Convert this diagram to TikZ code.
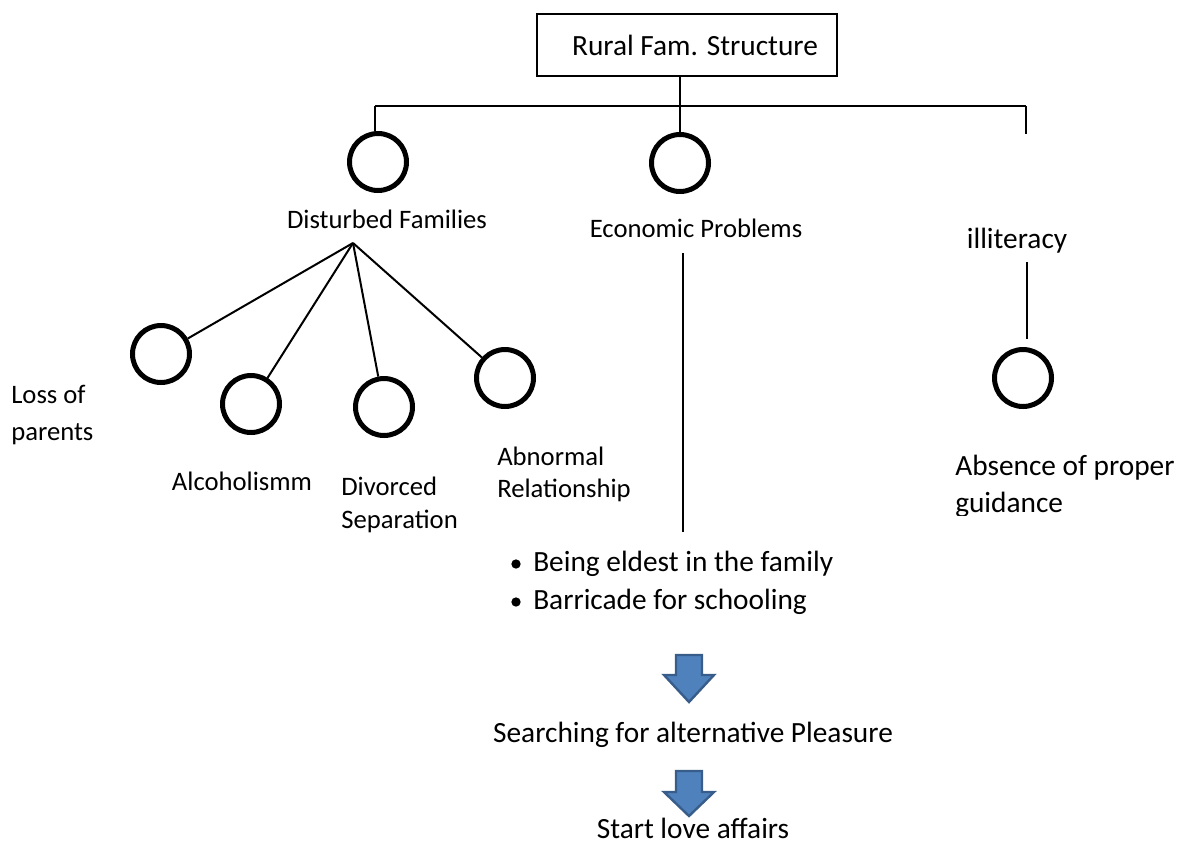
\documentclass[tikz,border=0pt]{standalone}
\usepackage{fontspec}
\setmainfont{Carlito}
\definecolor{arrowblue}{HTML}{4F81BD}
\definecolor{arrowedge}{HTML}{385D8A}
\begin{document}
\begin{tikzpicture}[x=0.75pt,y=-0.75pt,
  big/.style={font=\fontsize{22pt}{26pt}\selectfont, inner sep=0pt},
  small/.style={font=\fontsize{20pt}{24pt}\selectfont, inner sep=0pt},
  ring/.style={circle, draw, line width=3.75pt, minimum size=42.75pt, inner sep=0pt},
  link/.style={line width=1.5pt},
  dot/.style={circle, fill, inner sep=0pt, minimum size=7pt},
  blockarrow/.style={fill=arrowblue, draw=arrowedge, line width=1.8pt, line join=miter}]
\useasboundingbox (0,0) rectangle (1177,843);

% top box
\node[draw, line width=1pt, minimum width=225pt, minimum height=46.5pt, big] (top) at (687,45) {\hspace*{12pt}Rural Fam. Structure};

% circles
\node[ring] (c1) at (378,162) {};
\node[ring] (c2) at (680,163) {};
\node[ring] (c3) at (161,354) {};
\node[ring] (c4) at (251,404) {};
\node[ring] (c5) at (384,407) {};
\node[ring] (c6) at (505,378) {};
\node[ring] (c7) at (1023,378) {};

% bar
\coordinate (barL) at (375,106);
\coordinate (barR) at (1026,106);
\coordinate (rdrop) at (1026,134);
\draw[link] (barL) -- (barR);
\draw[link] (barL) -- (barL |- c1.north);
\draw[link] (barR) -- (rdrop);
\draw[link] (top.south -| c2.north) -- (c2.north);

% labels level 1
\node[small, anchor=base] (df) at (387,228) {Disturbed Families};
\node[small, anchor=base] (ep) at (696,237) {Economic Problems};
\node[big, anchor=base] (il) at (1017,248) {illiteracy};

% fan
\coordinate (apex) at (353,243);
\draw[link] (apex) -- (c3);
\draw[link] (apex) -- (c4);
\draw[link] (apex) -- (c5);
\draw[link] (apex) -- (c6);

% economic line
\coordinate (econTop) at (683,253);
\coordinate (econBot) at (683,532);
\draw[link] (econTop) -- (econBot);

% illiteracy line
\coordinate (illTop) at (1027,262);
\coordinate (illBot) at (1027,339);
\draw[link] (illTop) -- (illBot);

% sub labels
\node[small, anchor=base west] (lp1) at (11,403) {Loss of};
\node[small, anchor=base west] (lp2) at (11,440) {parents};
\node[small, anchor=base] (alc) at (242,490) {Alcoholismm};
\node[small, anchor=base west] (dv1) at (341,495) {Divorced};
\node[small, anchor=base west] (dv2) at (341,528) {Separation};
\node[small, anchor=base west] (ab1) at (497,465) {Abnormal};
\node[small, anchor=base west] (ab2) at (497,497) {Relationship};

\begin{scope}
\clip (940,440) rectangle (1177,515);
\node[big, anchor=base west] (ap1) at (955,475) {Absence of proper};
\node[big, anchor=base west] (ap2) at (955,512) {guidance};
\end{scope}

% bullets
\node[dot] (b1) at (516,564) {};
\node[dot] (b2) at (516,602) {};
\node[big, anchor=base west] (bt1) at (533,571) {Being eldest in the family};
\node[big, anchor=base west] (bt2) at (533,609) {Barricade for schooling};

% arrows
\draw[blockarrow] (676,655) -- (702,655) -- (702,675) -- (714,675) -- (689,702) -- (664,675) -- (676,675) -- cycle;
\node[big, anchor=base] (srch) at (693,742) {Searching for alternative Pleasure};
\draw[blockarrow] (676,771) -- (702,771) -- (702,792) -- (714,792) -- (689,816) -- (664,792) -- (676,792) -- cycle;
\node[big, anchor=base] (love) at (693,838) {Start love affairs};
\end{tikzpicture}
\end{document}
